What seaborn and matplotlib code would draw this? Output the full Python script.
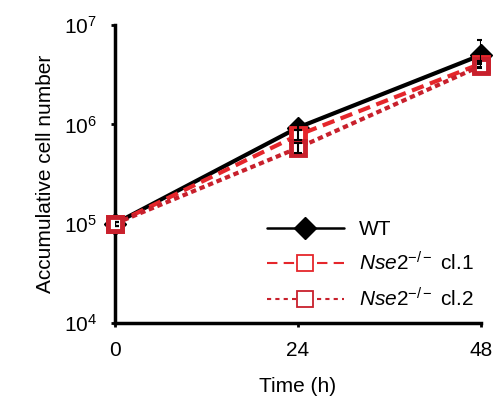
import matplotlib
matplotlib.use("Agg")
import matplotlib.pyplot as plt
import seaborn as sns
import pandas as pd
from matplotlib.lines import Line2D

sns.set_theme(style="ticks")
plt.rcParams['font.family'] = ['Liberation Sans', 'DejaVu Sans']
plt.rcParams['mathtext.fontset'] = 'custom'
plt.rcParams['mathtext.rm'] = 'Liberation Sans'
plt.rcParams['mathtext.it'] = 'Liberation Sans:italic'
for k in ['text.color', 'axes.labelcolor', 'xtick.color', 'ytick.color']:
    plt.rcParams[k] = 'black'

# data
time_h = [0, 24, 48]
wt = [1.0e5, 9.3e5, 5.0e6]
wt_lo = [0.05e5, 0.6e5, 0.8e6]
wt_hi = [0.05e5, 0.6e5, 2.0e6]
cl1 = [1.0e5, 7.8e5, 4.1e6]
cl1_err = [0.05e5, 0.9e5, 0.3e6]
cl2 = [1.0e5, 5.8e5, 3.9e6]
cl2_err = [0.05e5, 0.7e5, 0.2e6]

names = ['WT', r'$\mathit{Nse2}^{-/-}$ cl.1', r'$\mathit{Nse2}^{-/-}$ cl.2']
df = pd.DataFrame({
    'time': time_h * 3,
    'cells': wt + cl1 + cl2,
    'line': [names[0]] * 3 + [names[1]] * 3 + [names[2]] * 3,
})

colors = {names[0]: 'black', names[1]: '#e5262b', names[2]: '#c8202c'}
dashes = {names[0]: '', names[1]: (3, 1.6), names[2]: (1.3, 0.9)}
markers = {names[0]: 'D', names[1]: 's', names[2]: 's'}

fig = plt.figure(figsize=(4.95, 4.05), dpi=100)
ax = fig.add_axes([0.232, 0.2025, 0.74, 0.7355])

sns.lineplot(data=df, x='time', y='cells', hue='line', style='line',
             palette=colors, dashes=dashes, markers=markers, ax=ax,
             linewidth=3, markersize=10, markeredgewidth=3.5,
             markerfacecolor='white', legend=False, zorder=3)

for ln in ax.lines:
    ln.set_markeredgecolor(ln.get_color())
    if ln.get_marker() == 'D':
        ln.set_markerfacecolor('black')
        ln.set_markersize(11)
        ln.set_markeredgewidth(1)
    ln.set_clip_on(False)

for y, e in [(wt, [wt_lo, wt_hi]), (cl1, cl1_err), (cl2, cl2_err)]:
    ax.errorbar(time_h, y, yerr=e, fmt='none', ecolor='black', elinewidth=1.5,
                capsize=3, capthick=1.5, zorder=4)

ax.set_yscale('log')
ax.set_ylim(1e4, 1e7)
ax.set_xlim(0, 48)
ax.set_xticks([0, 24, 48])
ax.set_yticks([1e4, 1e5, 1e6, 1e7])
ax.yaxis.set_minor_locator(matplotlib.ticker.NullLocator())
ax.set_xlabel('Time (h)', fontsize=15, labelpad=12)
ax.set_ylabel('Accumulative cell number', fontsize=15, labelpad=6)
ax.tick_params(axis='both', labelsize=15, length=3, width=2, pad=10, color='black')
for s in ['top', 'right']:
    ax.spines[s].set_visible(False)
for s in ['left', 'bottom']:
    ax.spines[s].set_linewidth(2.5)
    ax.spines[s].set_color('black')

handles = [
    Line2D([], [], color='black', lw=1.8, marker='D', markersize=11, markerfacecolor='black'),
    Line2D([], [], color='#e5262b', lw=1.5, dashes=(5, 3), marker='s', markersize=11,
           markerfacecolor='white', markeredgewidth=1.3),
    Line2D([], [], color='#c8202c', lw=1.5, dashes=(2, 2), marker='s', markersize=11,
           markerfacecolor='white', markeredgewidth=1.3),
]
ax.legend(handles, names, loc='lower right', bbox_to_anchor=(1.03, -0.02), frameon=False,
          fontsize=15, handlelength=3.7, labelspacing=0.6, handletextpad=0.7)

fig.savefig('out.png', dpi=100)
